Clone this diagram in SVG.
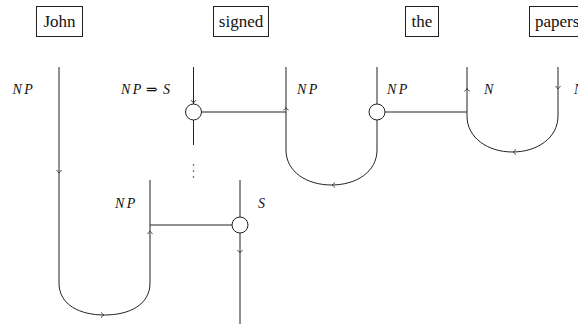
<svg xmlns="http://www.w3.org/2000/svg" width="578" height="324" viewBox="0 0 578 324">
<style>
.wire{fill:none;stroke:#222;stroke-width:1}
.box{fill:#fff;stroke:#222;stroke-width:1}
.junc{fill:#fff;stroke:#222;stroke-width:1}
.word{font-family:"Liberation Serif","DejaVu Serif",serif;font-size:17px;fill:#111}
.lab{font-family:"Liberation Serif","DejaVu Serif",serif;font-style:italic;font-size:14px;letter-spacing:2.5px;fill:#111}
.op{font-style:normal;font-size:14px;letter-spacing:0}
.ah{fill:none;stroke:#222;stroke-width:0.9}
.dot{fill:#333}
</style>
<defs>
<path id="ah" class="ah" d="M-2.6,-2.6 C-1.8,-1 -0.7,-0.3 0,0 C-0.7,0.3 -1.8,1 -2.6,2.6"/>
</defs>
<g id="connectors">
<path class="wire" d="M59,67 V283 C59,305 80,315 104.5,315 C129,315 150,305 150,283 V180"/>
<path class="wire" d="M193.5,67 V104"/>
<path class="wire" d="M193.5,120 V145"/>
<path class="wire" d="M201.5,112 H286"/>
<path class="wire" d="M286,67 V150 C286,172 307,185 331.5,185 C356,185 377,172 377,150 V120"/>
<path class="wire" d="M377,67 V104"/>
<path class="wire" d="M385,112 H467"/>
<path class="wire" d="M467,67 V116 C467,138 488,152 512.5,152 C537,152 558,138 558,116 V67"/>
<path class="wire" d="M150,225 H232"/>
<path class="wire" d="M240,180 V217"/>
<path class="wire" d="M240,233 V324"/>
<circle class="dot" cx="193.5" cy="165" r="0.8"/>
<circle class="dot" cx="193.5" cy="171" r="0.8"/>
<circle class="dot" cx="193.5" cy="177" r="0.8"/>
<use href="#ah" transform="translate(59,173) rotate(90)"/>
<use href="#ah" transform="translate(104,315)"/>
<use href="#ah" transform="translate(150,231) rotate(-90)"/>
<use href="#ah" transform="translate(193.5,103) rotate(90)"/>
<use href="#ah" transform="translate(286,107.5) rotate(-90)"/>
<use href="#ah" transform="translate(332,185) rotate(180)"/>
<use href="#ah" transform="translate(467,88.5) rotate(-90)"/>
<use href="#ah" transform="translate(513,152) rotate(180)"/>
<use href="#ah" transform="translate(558,89) rotate(90)"/>
<use href="#ah" transform="translate(240,253) rotate(90)"/>
</g>
<g id="labels">
<text class="lab" x="12.5" y="94">NP</text>
<text class="lab" x="121" y="94">NP<tspan class="op" x="146">⇒</tspan><tspan x="163">S</tspan></text>
<text class="lab" x="297" y="94">NP</text>
<text class="lab" x="387" y="94">NP</text>
<text class="lab" x="484" y="94">N</text>
<text class="lab" x="574" y="94">NP</text>
<text class="lab" x="115" y="208">NP</text>
<text class="lab" x="258" y="208">S</text>
</g>
<g id="node-john">
<rect class="box" x="36.5" y="6.5" width="46" height="30"/>
<text class="word" x="59.5" y="27" text-anchor="middle">John</text>
</g>
<g id="node-signed">
<rect class="box" x="213.5" y="6.5" width="55" height="30"/>
<text class="word" x="241" y="27" text-anchor="middle">signed</text>
</g>
<g id="node-the">
<rect class="box" x="405.5" y="6.5" width="33" height="30"/>
<text class="word" x="422" y="27" text-anchor="middle">the</text>
</g>
<g id="node-papers">
<rect class="box" x="529.5" y="6.5" width="60" height="30"/>
<text class="word" x="535" y="27">papers</text>
</g>
<g id="junction-1"><circle class="junc" cx="193.5" cy="112" r="8"/></g>
<g id="junction-2"><circle class="junc" cx="377" cy="112" r="8"/></g>
<g id="junction-3"><circle class="junc" cx="240" cy="225" r="8"/></g>
</svg>
